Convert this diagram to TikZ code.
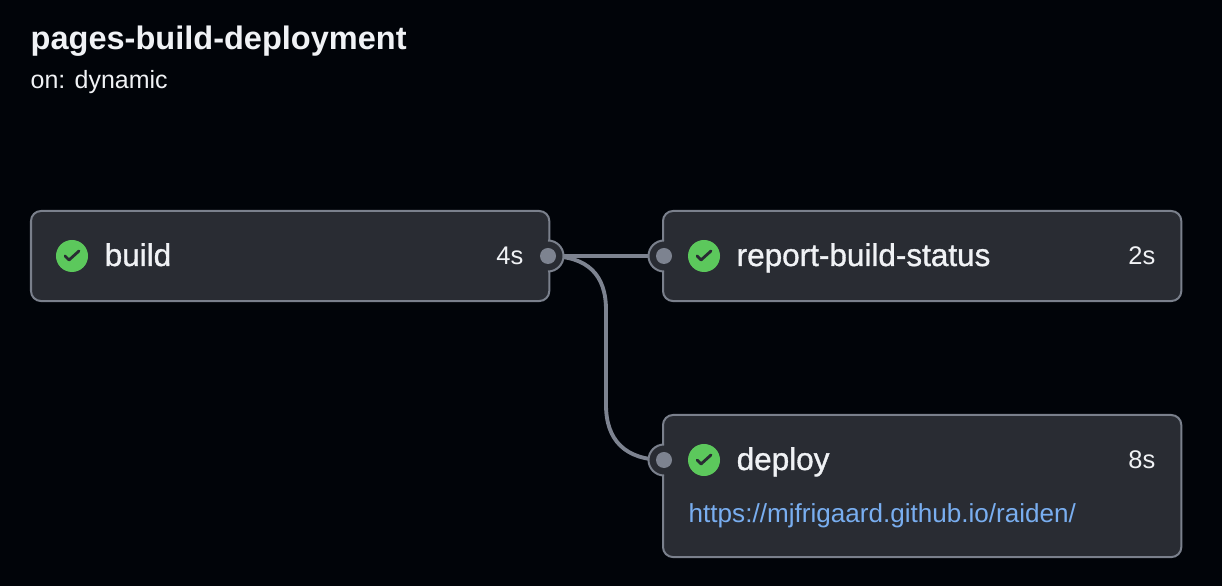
\documentclass[tikz,border=0pt]{standalone}
\usepackage{fontspec}
\setmainfont{Liberation Sans}
\newfontfamily\medfont[FakeBold=1.1]{Liberation Sans}
\usepackage{tikz}
\definecolor{pagebg}{HTML}{010409}
\definecolor{cardbg}{HTML}{292C33}
\definecolor{cardline}{HTML}{7A808C}
\definecolor{wireline}{HTML}{7D8390}
\definecolor{okgreen}{HTML}{5CC85C}
\definecolor{linkblue}{HTML}{79AEF0}
\definecolor{inktext}{HTML}{F0F2F5}
\tikzset{
  card/.style={draw=cardline,fill=cardbg,line width=0.57pt,rounded corners=0.1cm,inner sep=0pt,outer sep=0pt,anchor=north west,minimum width=5.18cm},
  jobname/.style={inner sep=0pt,anchor=base west,text=inktext,font=\medfont\fontsize{8.95}{10}\selectfont},
  jobtime/.style={inner sep=0pt,anchor=base east,text=inktext,font=\fontsize{7.25}{9}\selectfont},
  okdot/.style={circle,fill=okgreen,inner sep=0pt,minimum size=0.32cm},
  portdot/.style={circle,fill=wireline,inner sep=0pt,minimum size=0.16cm},
  wire/.style={draw=wireline,line width=1.1pt}
}
\newcommand\okcheck[1]{\draw[cardbg,line width=0.8pt,line cap=round,line join=round] (#1)+(-7,0) -- +(-3,4) -- +(7,-5);}
\begin{document}
\begin{tikzpicture}[x=0.01cm,y=-0.01cm]
  \useasboundingbox[fill=pagebg] (0,0) rectangle (1222,586);
  \node[inner sep=0pt,anchor=base west,text=inktext,font=\bfseries\fontsize{9.25}{11}\selectfont] (title) at (30,50) {pages-build-deployment};
  \node[inner sep=0pt,anchor=base west,text=inktext,font=\fontsize{7.1}{9}\selectfont] (trigger) at (30,89) {on: dynamic};
  % wires go under the cards
  \coordinate (buildout) at (548,256);
  \coordinate (statusin) at (664,256);
  \coordinate (deployin) at (664,460);
  \draw[wire] (buildout) -- (statusin);
  \draw[wire] (buildout) .. controls +(40,0) and (606,275) .. (606,310) -- (606,405) .. controls (606,440) and (625,460) .. (deployin);
  \node[card,minimum height=0.9cm] (build) at (31,211) {};
  \node[card,minimum height=0.9cm] (status) at (663,211) {};
  \node[card,minimum height=1.42cm] (deploy) at (663,415) {};
  % ports
  \fill[cardbg] (buildout) circle (15);
  \draw[cardline,line width=0.57pt] (548,240.5) arc (-90:90:15.5);
  \fill[cardbg] (statusin) circle (15);
  \draw[cardline,line width=0.57pt] (664,240.5) arc (270:90:15.5);
  \fill[cardbg] (deployin) circle (15);
  \draw[cardline,line width=0.57pt] (664,444.5) arc (270:90:15.5);
  \node[portdot] (buildport) at (buildout) {};
  \node[portdot] (statusport) at (statusin) {};
  \node[portdot] (deployport) at (deployin) {};
  % job rows
  \node[okdot] (buildok) at (72,256) {};
  \okcheck{buildok}
  \node[jobname] (buildname) at (104,266) {build};
  \node[jobtime] (buildtime) at (524,265) {4s};
  \node[okdot] (statusok) at (704,256) {};
  \okcheck{statusok}
  \node[jobname] (statusname) at (736,266) {report-build-status};
  \node[jobtime] (statustime) at (1156,265) {2s};
  \node[okdot] (deployok) at (704,460) {};
  \okcheck{deployok}
  \node[jobname] (deployname) at (736,470) {deploy};
  \node[jobtime] (deploytime) at (1156,469) {8s};
  \node[inner sep=0pt,anchor=base west,text=linkblue,font=\fontsize{7.42}{9}\selectfont] (deploylink) at (688,523) {https://mjfrigaard.github.io/raiden/};
\end{tikzpicture}
\end{document}
